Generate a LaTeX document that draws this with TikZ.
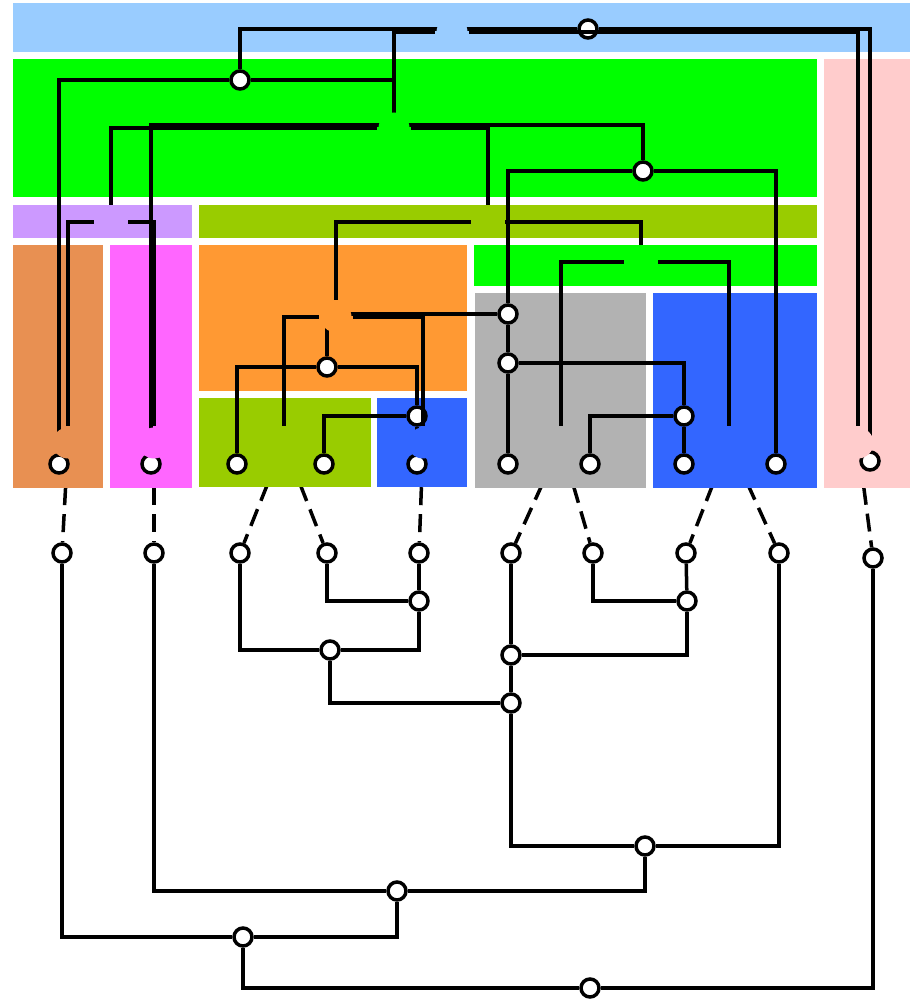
\documentclass[tikz,border=0pt]{standalone}
\usepackage{tikz}
\usetikzlibrary{arrows,positioning,shapes}
\usepackage{xcolor}

\definecolor{cSky}{HTML}{99CCFF}
\definecolor{cGreen}{HTML}{00FF00}
\definecolor{cPink}{HTML}{FFCCCC}
\definecolor{cLilac}{HTML}{CC99FF}
\definecolor{cOlive}{HTML}{99CC00}
\definecolor{cBrown}{HTML}{E89052}
\definecolor{cMagenta}{HTML}{FF66FF}
\definecolor{cOrange}{HTML}{FF9933}
\definecolor{cBlue}{HTML}{3366FF}
\definecolor{cGray}{HTML}{B2B2B2}

\pgfdeclarelayer{bottom}
\pgfsetlayers{bottom,main}

\begin{document}
\begin{tikzpicture}[x=0.02cm,y=-0.02cm,line width=0.07cm]
	\tikzstyle{gene}
	  =[draw, fill=white, circle, minimum size=0.36cm, inner sep=0pt]
	\tikzstyle{snode}
	  =[circle, minimum size=0.62cm, inner sep=0pt]
	\tikzstyle{mapline}
	  =[line width=0.07cm, dash pattern=on 0.36cm off 0.18cm]

	\useasboundingbox (0,0) rectangle (910,999);

	% species boxes
	\fill[cSky] (13,3) rectangle (910,52);
	\fill[cGreen] (13,59) rectangle (817,197);
	\fill[cPink] (824,59) rectangle (910,488);
	\fill[cLilac] (13,205) rectangle (192,238);
	\fill[cOlive] (199,205) rectangle (817,238);
	\fill[cBrown] (13,245) rectangle (103,488);
	\fill[cMagenta] (110,245) rectangle (192,488);
	\fill[cOrange] (199,245) rectangle (467,391);
	\fill[cGreen] (474,245) rectangle (817,286);
	\fill[cOlive] (199,398) rectangle (371,487);
	\fill[cBlue] (377,398) rectangle (467,487);
	\fill[cGray] (475,293) rectangle (646,488);
	\fill[cBlue] (653,293) rectangle (817,488);

	% gene tree drawn inside the species
	\node[gene] (R)
	  at (588,29) {};
	\node[gene] (H)
	  at (240,80) {};
	\coordinate (G) at (394,125);
	\node[gene] (F)
	  at (643,171) {};
	\node[gene] (E)
	  at (508,314) {};
	\node[gene] (B)
	  at (327,367) {};
	\node[gene] (D)
	  at (508,363) {};
	\node[gene] (A)
	  at (417,416) {};
	\node[gene] (C)
	  at (684,416) {};

	\node[gene] (l1)
	  at (59,464) {};
	\node[gene] (l2)
	  at (151,464) {};
	\node[gene] (l3)
	  at (237,464) {};
	\node[gene] (l4)
	  at (324,464) {};
	\node[gene] (l5)
	  at (417,464) {};
	\node[gene] (l6)
	  at (508,464) {};
	\node[gene] (l7)
	  at (590,464) {};
	\node[gene] (l8)
	  at (684,464) {};
	\node[gene] (l9)
	  at (776,464) {};
	\node[gene] (l10)
	  at (870,461) {};

	\draw (R) -| (H);
	\draw (R) -| (l10);
	\draw (H) -| (l1);
	\draw (H) -| (G);
	\draw (G) -| (l2);
	\draw (G) -| (F);
	\draw (F) -| (E);
	\draw (F) -| (l9);
	\draw (E) -| (B);
	\draw (E) -- (D);
	\draw (B) -| (l3);
	\draw (B) -| (A);
	\draw (A) -| (l4);
	\draw (A) -- (l5);
	\draw (D) -- (l6);
	\draw (D) -| (C);
	\draw (C) -| (l7);
	\draw (C) -- (l8);

	% species nodes
	\node[snode, fill=cSky] (sRoot)
	  at (452,32) {};
	\node[snode, fill=cGreen] (sGreen)
	  at (394,128) {};
	\node[snode, fill=cLilac] (sLilac)
	  at (111,222) {};
	\node[snode, fill=cOlive] (sOlive)
	  at (488,222) {};
	\node[snode, fill=cOrange] (sOrange)
	  at (336,317) {};
	\node[snode, fill=cGreen] (sGreenR)
	  at (641,262) {};

	\node[snode, fill=cBrown] (sBrown)
	  at (68,443) {};
	\node[snode, fill=cMagenta] (sMagenta)
	  at (154,443) {};
	\node[snode, fill=cOlive] (sOliveL)
	  at (284,443) {};
	\node[snode, fill=cBlue] (sBlueS)
	  at (423,443) {};
	\node[snode, fill=cGray] (sGray)
	  at (561,443) {};
	\node[snode, fill=cBlue] (sBlueR)
	  at (729,443) {};
	\node[snode, fill=cPink] (sPink)
	  at (858,443) {};

	\draw (sRoot) -| (sGreen);
	\draw (sRoot) -| (sPink);
	\draw (sGreen) -| (sLilac);
	\draw (sGreen) -| (sOlive);
	\draw (sLilac) -| (sBrown);
	\draw (sLilac) -| (sMagenta);
	\draw (sOlive) -| (sOrange);
	\draw (sOlive) -| (sGreenR);
	\draw (sOrange) -| (sOliveL);
	\draw (sOrange) -| (sBlueS);
	\draw (sGreenR) -| (sGray);
	\draw (sGreenR) -| (sBlueR);

	% gene tree on its own
	\node[gene] (b1)
	  at (62,553) {};
	\node[gene] (b2)
	  at (154,553) {};
	\node[gene] (b3)
	  at (240,553) {};
	\node[gene] (b4)
	  at (327,553) {};
	\node[gene] (b5)
	  at (419,553) {};
	\node[gene] (b6)
	  at (511,553) {};
	\node[gene] (b7)
	  at (593,553) {};
	\node[gene] (b8)
	  at (686,553) {};
	\node[gene] (b9)
	  at (779,553) {};
	\node[gene] (b10)
	  at (873,558) {};

	\node[gene] (bA)
	  at (419,601) {};
	\node[gene] (bB)
	  at (330,650) {};
	\node[gene] (bC)
	  at (687,601) {};
	\node[gene] (bD)
	  at (511,655) {};
	\node[gene] (bE)
	  at (511,703) {};
	\node[gene] (bF)
	  at (645,846) {};
	\node[gene] (bG)
	  at (397,891) {};
	\node[gene] (bH)
	  at (243,937) {};
	\node[gene] (bR)
	  at (590,988) {};

	\draw (bA) -| (b4);
	\draw (bA) -- (b5);
	\draw (bB) -| (b3);
	\draw (bB) -| (bA);
	\draw (bC) -| (b7);
	\draw (bC) -- (b8);
	\draw (bD) -- (b6);
	\draw (bD) -| (bC);
	\draw (bE) -- (bD);
	\draw (bE) -| (bB);
	\draw (bF) -| (bE);
	\draw (bF) -| (b9);
	\draw (bG) -| (b2);
	\draw (bG) -| (bF);
	\draw (bH) -| (b1);
	\draw (bH) -| (bG);
	\draw (bR) -| (bH);
	\draw (bR) -| (b10);

	\begin{pgfonlayer}{bottom}
	\draw[mapline] (sBrown) -- (b1);
	\draw[mapline] (sMagenta) -- (b2);
	\draw[mapline] (sOliveL) -- (b3);
	\draw[mapline] (sOliveL) -- (b4);
	\draw[mapline] (sBlueS) -- (b5);
	\draw[mapline] (sGray) -- (b6);
	\draw[mapline] (sGray) -- (b7);
	\draw[mapline] (sBlueR) -- (b8);
	\draw[mapline] (sBlueR) -- (b9);
	\draw[mapline] (sPink) -- (b10);
	\end{pgfonlayer}
\end{tikzpicture}
\end{document}
